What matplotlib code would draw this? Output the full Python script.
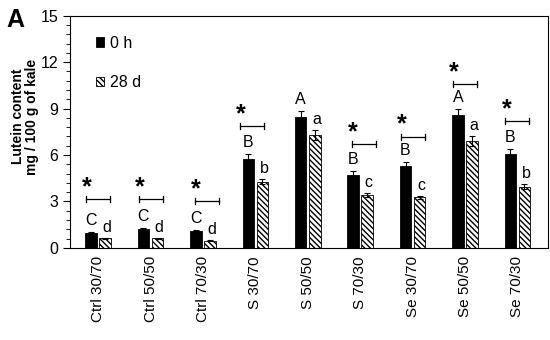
import matplotlib
matplotlib.use("Agg")
import matplotlib.pyplot as plt
import numpy as np
from matplotlib.ticker import MultipleLocator

plt.rcParams['font.family'] = ['Liberation Sans', 'DejaVu Sans']
plt.rcParams['hatch.linewidth'] = 1.0

categories = ["Ctrl 30/70", "Ctrl 50/50", "Ctrl 70/30", "S 30/70", "S 50/50",
              "S 70/30", "Se 30/70", "Se 50/50", "Se 70/30"]
vals_0h = [0.99, 1.25, 1.10, 5.72, 8.43, 4.71, 5.31, 8.56, 6.08]
err_0h = [0.05, 0.05, 0.04, 0.32, 0.43, 0.26, 0.26, 0.43, 0.33]
vals_28d = [0.63, 0.63, 0.47, 4.28, 7.29, 3.41, 3.26, 6.89, 3.94]
err_28d = [0.03, 0.03, 0.03, 0.15, 0.32, 0.13, 0.11, 0.33, 0.17]
letters_0h = ["C", "C", "C", "B", "A", "B", "B", "A", "B"]
letters_28d = ["d", "d", "d", "b", "a", "c", "c", "a", "b"]
bracket_y = [3.14, 3.14, 3.03, 7.87, None, 6.69, 7.18, 10.56, 8.2]
bracket_shift = [0.0, 0.0, 0.08, -0.07, 0.0, 0.07, 0.0, 0.0, 0.0]

fig = plt.figure(figsize=(5.5, 3.4), dpi=100)
ax = fig.add_axes([0.127, 0.271, 0.869, 0.683])

x = np.arange(len(categories))
w = 0.22
off = 0.135
ax.bar(x - off, vals_0h, w, color='black', edgecolor='black', linewidth=0.6,
       yerr=err_0h, error_kw=dict(ecolor='black', elinewidth=0.8, capsize=2.5, capthick=0.8),
       label='0 h', zorder=2)
ax.bar(x + off, vals_28d, w, color='white', edgecolor='black', linewidth=0.6,
       hatch='\\\\\\\\\\\\', yerr=err_28d,
       error_kw=dict(ecolor='black', elinewidth=0.8, capsize=2.5, capthick=0.8),
       label='28 d', zorder=2)

for i in range(len(categories)):
    ax.text(x[i] - off, vals_0h[i] + err_0h[i] + 0.25, letters_0h[i],
            ha='center', va='bottom', fontsize=11.5)
    ax.text(x[i] + off + 0.03, vals_28d[i] + err_28d[i] + 0.2, letters_28d[i],
            ha='center', va='bottom', fontsize=11.5)
    by = bracket_y[i]
    if by is not None:
        x0 = x[i] - 0.23 + bracket_shift[i]
        x1 = x[i] + 0.23 + bracket_shift[i]
        ax.plot([x0, x1], [by, by], color='black', lw=0.9)
        ax.plot([x0, x0], [by - 0.2, by + 0.2], color='black', lw=0.9)
        ax.plot([x1, x1], [by - 0.2, by + 0.2], color='black', lw=0.9)
        ax.text(x0 + 0.02, by + 0.0, '*', ha='center', va='bottom', fontsize=18,
                fontweight='bold')

ax.set_xlim(-0.54, 8.58)
ax.set_ylim(0, 15)
ax.yaxis.set_major_locator(MultipleLocator(3))
ax.yaxis.set_minor_locator(MultipleLocator(0.6))
ax.tick_params(axis='y', which='major', direction='out', length=5, width=0.8, labelsize=11.5)
ax.tick_params(axis='y', which='minor', direction='out', length=3, width=0.6)
ax.set_xticks(x)
ax.set_xticklabels(categories, rotation=90, fontsize=11)
ax.tick_params(axis='x', length=0, pad=6)
for s in ax.spines.values():
    s.set_linewidth(0.8)

ax.set_ylabel("Lutein content\nmg / 100 g of kale", fontsize=10, fontweight='bold',
              linespacing=1.0)
ax.yaxis.set_label_coords(-0.064, 0.565)

leg = ax.legend(loc='upper left', bbox_to_anchor=(0.035, 0.955), frameon=False,
                fontsize=11.5, handlelength=0.5, handleheight=0.5, handletextpad=0.35,
                labelspacing=1.55, borderaxespad=0.2)

fig.text(0.012, 0.92, "A", fontsize=18, fontweight='bold')

fig.savefig("out.png", dpi=100)
